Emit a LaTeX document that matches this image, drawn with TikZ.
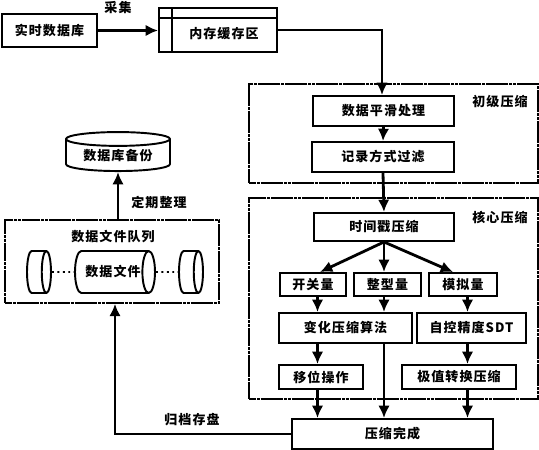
\documentclass[tikz,border=0pt]{standalone}
\usepackage{fontspec}
\setmainfont{Liberation Sans}
\newfontfamily\cjk[LetterSpace=8]{Noto Sans CJK SC}
\usetikzlibrary{arrows.meta,shapes.geometric}

\tikzset{
    txt/.style={font=\cjk\bfseries\fontsize{7.4}{9}\selectfont, inner sep=0pt},
    pxbox/.style 2 args={draw, line width=1.1pt, txt, minimum width=#1*0.02cm, minimum height=#2*0.02cm},
    group/.style={draw, line width=0.9pt, dash pattern=on 2pt off 0.2pt, inner sep=0pt},
    arr/.style={line width=1.6pt, -{Latex[length=7pt,width=6.5pt]}},
    drum/.style={draw, line width=1.1pt, cylinder, txt},
    filedrum/.style={drum, anchor=shape center, inner ysep=0.42cm},
}

\begin{document}
\begin{tikzpicture}[x=0.02cm, y=-0.02cm]
    \useasboundingbox (0,0) rectangle (539,450);

    % 分组框
    \node[group, minimum width=5.78cm, minimum height=1.98cm] (prim_grp) at (393.5,133.5) {};
    \node[group, minimum width=5.78cm, minimum height=4.02cm] (core_grp) at (393.5,298.5) {};
    \node[group, minimum width=4.28cm, minimum height=1.66cm] (queue_grp) at (112,261.5) {};
    \node[txt] (prim_lbl) at (500,102) {初级压缩};
    \node[txt] (core_lbl) at (500,218) {核心压缩};
    \node[txt] (queue_lbl) at (113,237) {数据文件队列};

    % 数据源与缓存
    \node[pxbox={95}{33}] (src) at (49.5,30.5) {实时数据库};
    \node[pxbox={118}{44}] (mem) at (218,30) {};
    \node[txt] (mem_lbl) at (224,34) {内存缓存区};
    \coordinate (mem_in) at (172,0);
    \coordinate (mem_top) at (0,18);
    \draw[line width=1.1pt] (mem_in |- mem.north) -- (mem_in |- mem.south);
    \draw[line width=1.1pt] (mem.west |- mem_top) -- (mem.east |- mem_top);
    \node[txt] (get_lbl) at (118,8) {采集};

    % 初级压缩
    \node[pxbox={141}{30}] (smooth) at (383.5,111) {数据平滑处理};
    \node[pxbox={142}{30}] (rec) at (383,157) {记录方式过滤};

    % 核心压缩
    \node[pxbox={140}{28}] (ts) at (384,227) {时间戳压缩};
    \node[pxbox={66}{23}] (sw) at (313,284.5) {开关量};
    \node[pxbox={67}{23}] (int) at (387.5,284.5) {整型量};
    \node[pxbox={68}{23}] (ana) at (463,284.5) {模拟量};
    \node[pxbox={133}{30}] (chg) at (345.5,328) {变化压缩算法};
    \node[pxbox={109}{30}] (sdt) at (471.5,328) {自控精度SDT};
    \node[pxbox={84}{24}] (mov) at (321,377) {移位操作};
    \node[pxbox={114}{24}] (ext) at (459,377) {极值转换压缩};
    \node[pxbox={201}{30}] (done) at (392.5,434) {压缩完成};

    % 数据文件
    \node[filedrum, minimum height=1.6cm, aspect=0.3] (file) at (115,272) {};
    \node[txt] (file_lbl) at (113,272) {数据文件};
    \node[filedrum, minimum height=0.48cm, aspect=0.22] (file_l) at (39,272) {};
    \node[filedrum, minimum height=0.48cm, aspect=0.22] (file_r) at (191,272) {};
    \draw[line width=1.1pt, dotted] (file_l.east) -- (file.west);
    \draw[line width=1.1pt, dotted] (file.east) -- (file_r.west);

    % 数据库备份
    \node[drum, shape border rotate=90, minimum width=2.08cm, minimum height=0.78cm, aspect=0.2] (bak) at (118,155.5) {数据库备份};

    % 连线
    \coordinate (lane_a) at (317.5,0);
    \coordinate (lane_b) at (384,0);
    \coordinate (lane_c) at (467.5,0);
    \coordinate (bus_up) at (115,0);
    \coordinate (bus_rt) at (382,0);
    \draw[arr] (src.east) -- (mem.west |- src.east);
    \draw[arr] (mem.east) -- (bus_rt |- mem.east) -- (bus_rt |- smooth.north);
    \draw[arr] (smooth.south) -- (rec.north);
    \draw[arr] (rec.south) -- (ts.north);
    \draw[arr] (ts.south) -- ([xshift=0.14cm]sw.north);
    \draw[arr] (ts.south) -- (ts.south |- int.north);
    \draw[arr] (ts.south) -- ([xshift=-0.2cm]ana.north);
    \draw[arr] (lane_a |- sw.south) -- (lane_a |- chg.north);
    \draw[arr] (lane_b |- int.south) -- (lane_b |- chg.north);
    \draw[arr] (lane_c |- ana.south) -- (lane_c |- sdt.north);
    \draw[arr] (lane_a |- chg.south) -- (lane_a |- mov.north);
    \draw[arr] (lane_c |- sdt.south) -- (lane_c |- ext.north);
    \draw[arr] (lane_a |- mov.south) -- (lane_a |- done.north);
    \draw[arr] (lane_b |- chg.south) -- (lane_b |- done.north);
    \draw[arr] (lane_c |- ext.south) -- (lane_c |- done.north);
    \draw[arr] (done.west) -- (bus_up |- done.west) -- (bus_up |- queue_grp.south);
    \draw[arr] (bak.south |- queue_grp.north) -- (bak.south);
    \node[txt] (arc_lbl) at (192,420) {归档存盘};
    \node[txt] (reg_lbl) at (159,202) {定期整理};
\end{tikzpicture}
\end{document}
